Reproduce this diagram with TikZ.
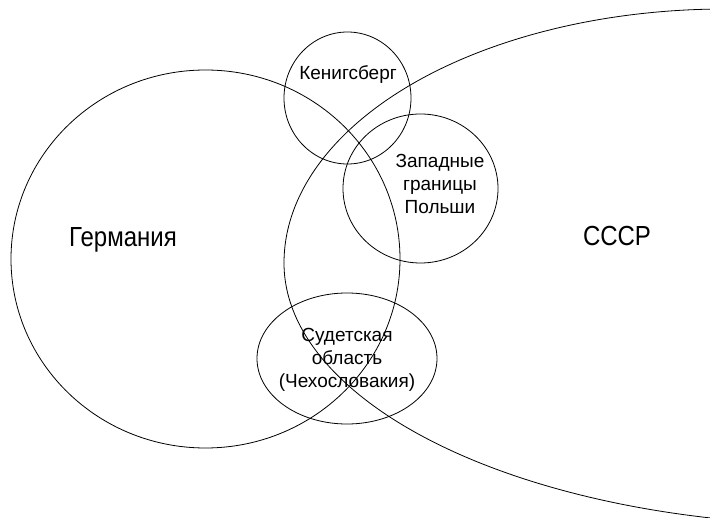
\documentclass[tikz,border=0pt]{standalone}
\usepackage{fontspec}
\setmainfont{Liberation Sans}
\usetikzlibrary{positioning}
\newcommand*{\bigtxt}{\fontsize{24}{28}\selectfont}
\newcommand*{\smtxt}{\fontsize{19}{23}\selectfont}
\newcommand*{\tall}[1]{\scalebox{1}[1.15]{#1}}

\begin{document}
\begin{tikzpicture}[x=1pt,y=-1pt,line width=0.8pt,
  lbl/.style={inner sep=0pt,align=center,font=\smtxt},
  country/.style={inner sep=0pt,font=\bigtxt}]
\useasboundingbox (0,0) rectangle (710,518);
\clip (0,0) rectangle (710,518);
% Germany
\draw (205.5,259) ellipse [x radius=194.5,y radius=189];
% USSR, cut by the right edge
\coordinate (uv) at (284,263);
\draw (uv) arc [start angle=180,end angle=285,x radius=441,y radius=254];
\draw (uv) arc [start angle=180,end angle=75,x radius=554,y radius=262];
% Disputed regions
\draw (347.5,98) ellipse [x radius=63.5,y radius=66];
\draw (420.5,188.5) ellipse [x radius=77.5,y radius=74.5];
\draw (347,358.5) ellipse [x radius=90,y radius=65.5];
% Labels
\node[country] (ger) at (123,240) {\tall{Германия}};
\node[country] (ussr) at (617,236) {\tall{СССР}};
\node[lbl] (kon) at (348,75) {Кенигсберг};
\node[lbl] (pol) at (440,184) {Западные\\границы\\Польши};
\node[lbl] (sud) at (347,360) {Судетская\\область\\(Чехословакия)};
\end{tikzpicture}
\end{document}
